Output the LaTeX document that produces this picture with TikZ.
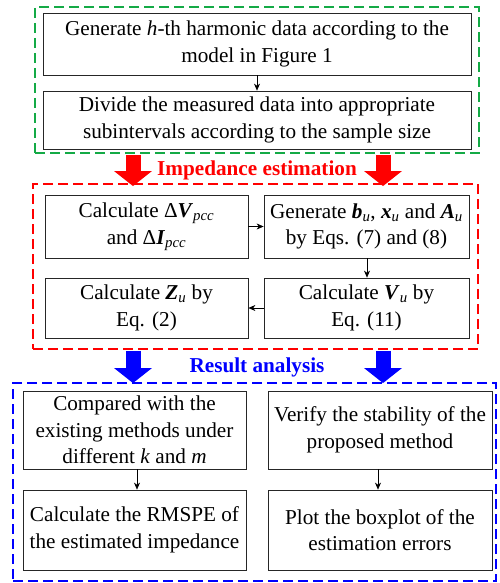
\documentclass[tikz,border=0pt]{standalone}
\usepackage{fontspec}
\usepackage{amsmath}
\setmainfont{Liberation Serif}
\usetikzlibrary{arrows.meta}
\definecolor{dgreen}{RGB}{20,170,70}
\newcommand{\bi}[1]{\textbf{\textit{#1}}}
\newcommand{\sbs}[1]{\ensuremath{_{\textit{#1}}}}
\begin{document}
\begin{tikzpicture}[x=1pt,y=-1pt,
  box/.style={draw=black!85, line width=0.8pt, align=center, inner sep=0pt,
    font=\fontsize{21.2}{26.6}\selectfont},
  frame/.style={line width=1.8pt, dash pattern=on 10pt off 5pt, inner sep=0pt},
  sarr/.style={-{Stealth[length=7pt,width=6pt]}, line width=0.6pt},
  bigarr/.style={line width=15pt, -{Triangle[width=37pt,length=15pt]}},
  lab/.style={font=\fontsize{21.2}{24}\selectfont\bfseries}]
\useasboundingbox (0,0) rectangle (500,583);
% frames
\node[frame, draw=dgreen, minimum width=444pt, minimum height=146pt] (gf) at (257,80) {};
\node[frame, draw=red, minimum width=445pt, minimum height=165pt] (rf) at (255.5,266.5) {};
\node[frame, draw=blue, minimum width=483pt, minimum height=198pt] (bf) at (254.5,482) {};
% top boxes
\node[box, minimum width=428pt, minimum height=62pt] (a1) at (257,44) {Generate \textit{h}-th harmonic data according to the\\ model in Figure 1};
\node[box, minimum width=428pt, minimum height=58pt] (a2) at (257,120) {Divide the measured data into appropriate\\ subintervals according to the sample size};
\draw[sarr] (a1) -- (a2);
% middle boxes
\node[box, minimum width=203pt, minimum height=63pt] (b1) at (146.5,226.5) {Calculate Δ\bi{V}\sbs{pcc}\\ and Δ\bi{I}\sbs{pcc}};
\node[box, minimum width=205pt, minimum height=63pt] (b2) at (366.5,226.5) {Generate \bi{b}\sbs{u}, \bi{x}\sbs{u} and \bi{A}\sbs{u}\\ by Eqs. (7) and (8)};
\node[box, minimum width=205pt, minimum height=60pt] (b3) at (366.5,308) {Calculate \bi{V}\sbs{u} by\\ Eq. (11)};
\node[box, minimum width=203pt, minimum height=60pt] (b4) at (146.5,308) {Calculate \bi{Z}\sbs{u} by\\ Eq. (2)};
\draw[sarr] (b1) -- (b2);
\draw[sarr] (b2.south -| 367,0) -- (b3.north -| 367,0);
\draw[sarr] (b3) -- (b4);
% bottom boxes
\node[box, minimum width=223pt, minimum height=78pt] (c1) at (134.5,430) {Compared with the\\ existing methods under\\ different \textit{k} and \textit{m}};
\node[box, minimum width=224pt, minimum height=78pt] (c2) at (380,430) {Verify the stability of the\\ proposed method};
\node[box, minimum width=223pt, minimum height=80pt] (c3) at (134.5,530) {Calculate the RMSPE of\\ the estimated impedance};
\node[box, minimum width=224pt, minimum height=80pt] (c4) at (380,530) {Plot the boxplot of the\\ estimation errors};
\draw[sarr] (c1.south -| 137,0) -- (c3.north -| 137,0);
\draw[sarr] (c2.south -| 378,0) -- (c4.north -| 378,0);
% big arrows and labels
\coordinate (r1s) at (gf.south -| 133,0);
\coordinate (r2s) at (gf.south -| 383,0);
\coordinate (r1e) at ([yshift=-3pt]rf.north -| 133,0);
\coordinate (r2e) at ([yshift=-3pt]rf.north -| 383,0);
\draw[bigarr, red] ([yshift=-1pt]r1s) -- (r1e);
\draw[bigarr, red] ([yshift=-1pt]r2s) -- (r2e);
\node[lab, text=red] (l1) at (257,170) {Impedance estimation};
\coordinate (u1s) at (rf.south -| 133,0);
\coordinate (u2s) at (rf.south -| 383,0);
\coordinate (u1e) at ([yshift=-1pt]bf.north -| 133,0);
\coordinate (u2e) at ([yshift=-1pt]bf.north -| 383,0);
\draw[bigarr, blue] ([yshift=-1pt]u1s) -- (u1e);
\draw[bigarr, blue] ([yshift=-1pt]u2s) -- (u2e);
\node[lab, text=blue] (l2) at (257,367) {Result analysis};
\end{tikzpicture}
\end{document}
